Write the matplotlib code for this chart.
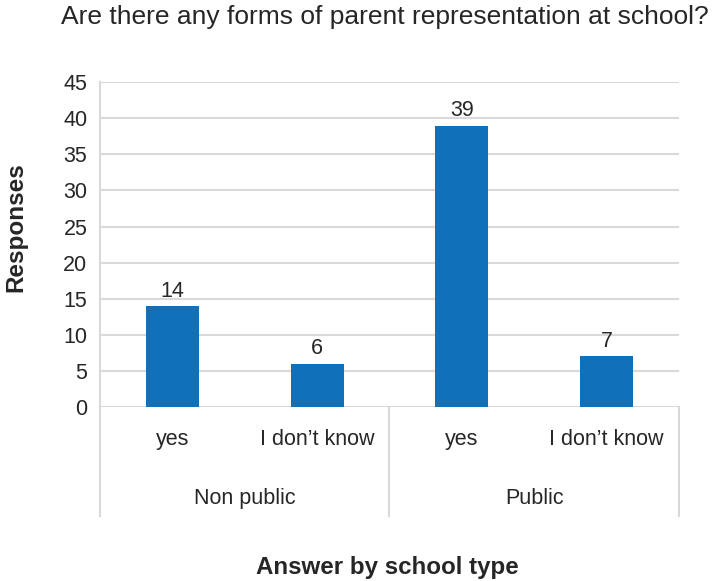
import matplotlib
matplotlib.use("Agg")
import matplotlib.pyplot as plt
import matplotlib.transforms as mtransforms

plt.rcParams['font.family'] = ['Liberation Sans', 'DejaVu Sans']

sub_labels = ["yes", "I don\u2019t know", "yes", "I don\u2019t know"]
groups = ["Non public", "Public"]
group_sizes = [2, 2]
values = [14, 6, 39, 7]
yticks = [0, 5, 10, 15, 20, 25, 30, 35, 40, 45]

bar_color = "#1170BA"
grid_color = "#D9D9D9"
text_color = "#262626"
fs = 15.5

fig = plt.figure(figsize=(7.14, 5.81), dpi=100)
ax = fig.add_axes([0.140, 0.2995, 0.811, 0.559])

x = list(range(len(values)))
bars = ax.bar(x, values, width=0.366, color=bar_color, zorder=3)
for xi, v in zip(x, values):
    ax.text(xi, v + 0.6, str(v), ha="center", va="bottom", fontsize=fs, color=text_color)

ax.set_xlim(-0.5, len(values) - 0.5)
ax.set_ylim(0, 45)
ax.set_yticks(yticks)
ax.set_yticklabels([str(t) for t in yticks], fontsize=fs, color=text_color)
ax.tick_params(axis="y", length=0, pad=9)
ax.tick_params(axis="x", length=0, labelbottom=False)
ax.yaxis.grid(True, color=grid_color, linewidth=1.5, zorder=0)
for s in ["top", "right", "bottom"]:
    ax.spines[s].set_visible(False)
ax.spines["left"].set_color(grid_color)
ax.spines["left"].set_linewidth(1.5)
ax.spines["left"].set_zorder(1)

trans = mtransforms.blended_transform_factory(ax.transData, ax.transAxes)
for xi, lab in zip(x, sub_labels):
    ax.text(xi, -0.1, lab, transform=trans, ha="center", va="center",
            fontsize=fs, color=text_color)

# group separators and labels
bottom = -0.335
start = -0.5
edges = [start]
for g, n in zip(groups, group_sizes):
    end = start + n
    ax.text((start + end) / 2, -0.282, g, transform=trans, ha="center", va="center",
            fontsize=fs, color=text_color)
    edges.append(end)
    start = end
for e in edges:
    ax.plot([e, e], [0, bottom], transform=trans, color=grid_color, linewidth=1.5,
            clip_on=False, zorder=1)

fig.text(0.539, 0.970, "Are there any forms of parent representation at school?",
         ha="center", va="center", fontsize=19, color=text_color)
fig.text(0.022, 0.609, "Responses", rotation=90, ha="center", va="center",
         fontsize=17.5, fontweight="bold", color=text_color)
fig.text(0.543, 0.024, "Answer by school type", ha="center", va="center",
         fontsize=17.4, fontweight="bold", color=text_color)

fig.savefig("out.png", dpi=100)
